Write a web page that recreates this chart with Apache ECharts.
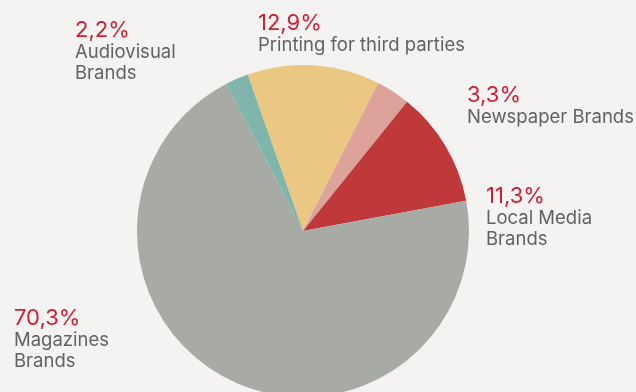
<!DOCTYPE html>
<html>
<head>
<meta charset="utf-8">
<script src="https://cdn.jsdelivr.net/npm/echarts@6/dist/echarts.min.js"></script>
<style>
  html, body { margin: 0; padding: 0; background: #f4f3f1; }
  #main { width: 636px; height: 392px; }
</style>
</head>
<body>
<div id="main"></div>
<script>
var names = ['Printing for third parties', 'Newspaper Brands', 'Local Media\nBrands', 'Magazines\nBrands', 'Audiovisual\nBrands'];
var values = [12.9, 3.3, 11.3, 70.3, 2.2];
var colors = ['#eac782', '#dda39b', '#c0393a', '#a8aaa6', '#7fb5ab'];
// where each label block starts (left, top)
var labelPos = [[258, 11], [467, 83], [486, 184], [14, 306], [75, 18]];

var data = [];
for (var i = 0; i < names.length; i++) {
    data.push({ name: names[i], value: values[i], itemStyle: { color: colors[i] } });
}

var chart = echarts.init(document.getElementById('main'));
chart.setOption({
    backgroundColor: '#f4f3f1',
    animation: false,
    series: [{
        type: 'pie',
        center: [303, 231],
        radius: 166,
        startAngle: 109.5,
        clockwise: true,
        data: data,
        label: {
            show: true,
            formatter: function (p) {
                return '{p|' + String(p.value).replace('.', ',') + '%}\n{n|' + p.name.split('\n').join('}\n{n|') + '}';
            },
            rich: {
                p: { fontFamily: 'Inter', fontSize: 22, color: '#cf1f36', lineHeight: 24 },
                n: { fontFamily: 'Inter', fontSize: 18.5, color: '#626262', lineHeight: 21 }
            }
        },
        labelLine: { show: false },
        labelLayout: function (params) {
            var pos = labelPos[params.dataIndex];
            return { x: pos[0], y: pos[1], align: 'left', verticalAlign: 'top' };
        }
    }]
});
</script>
</body>
</html>
